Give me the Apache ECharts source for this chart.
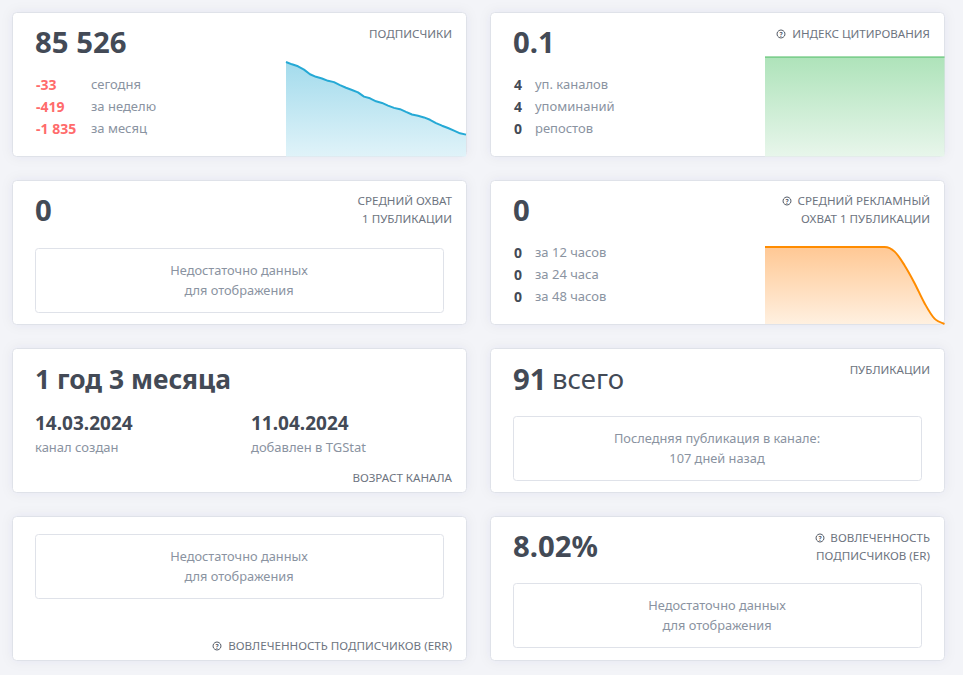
<!DOCTYPE html>
<html>
<head>
<meta charset="utf-8">
<title>TGStat</title>
<script src="https://cdn.jsdelivr.net/npm/echarts@6/dist/echarts.min.js"></script>
<style>
  html, body { margin: 0; padding: 0; background: #f3f4f8; }
  #chart { width: 963px; height: 675px; }
</style>
</head>
<body>
<div id="chart"></div>
<script>
// last 31 days of subscribers
const subscribers = [87361, 87302, 87252, 87169, 87052, 86986, 86944, 86885, 86852, 86777, 86710,
  86652, 86594, 86485, 86443, 86368, 86327, 86260, 86202, 86168, 86101, 86035, 86001, 85960,
  85901, 85818, 85751, 85693, 85626, 85559, 85526];
const subscriberDays = subscribers.map((v, i) => i + 1);
const citationIndex = [0.1, 0.1];
const citationDays = ['a', 'b'];
const adReach = [1, 1, 1, 1, 1, 1, 1, 1, 1, 1, 1, 1, 1, 0.94, 0.76, 0.53, 0.27, 0.07, 0];
const adReachHours = adReach.map((v, i) => i + 1);

const subscriberRows = [['-33', 'сегодня'], ['-419', 'за неделю'], ['-1 835', 'за месяц']];
const citationRows = [['4', 'уп. каналов'], ['4', 'упоминаний'], ['0', 'репостов']];
const adReachRows = [['0', 'за 12 часов'], ['0', 'за 24 часа'], ['0', 'за 48 часов']];

const FONT = '"Noto Sans", sans-serif';
const DARK = '#434a56', GRAY = '#8a93a1', CAPTION = '#6d7480', RED = '#ff6b6b', BORDER = '#dfe2e9';
const CAP = 11.6;

let els = [];

function card(x, y, w, h) {
  els.push({ type: 'rect', z: 0, shape: { x: x + .5, y: y + .5, width: w, height: h, r: 4 },
    style: { fill: '#fff', stroke: BORDER, lineWidth: 1, shadowBlur: 12, shadowColor: 'rgba(60,70,110,0.06)' } });
}

function box(x, y, w, h, lines) {
  els.push({ type: 'rect', z: 1, shape: { x: x + .5, y: y + .5, width: w, height: h, r: 3 },
    style: { fill: '#fff', stroke: BORDER, lineWidth: 1 } });
  text(x + w / 2, y + 21.5, lines[0], 12.8, 400, GRAY, 'center');
  text(x + w / 2, y + 41.5, lines[1], 12.8, 400, GRAY, 'center');
}

function text(x, y, str, size, weight, color, align) {
  els.push({ type: 'text', z: 5, x: x, y: y, style: {
    text: str, fill: color, align: align || 'left', verticalAlign: 'middle',
    font: weight + ' ' + size + 'px ' + FONT } });
}

function icon(x, y) {
  els.push({ type: 'circle', z: 5, shape: { cx: x, cy: y, r: 4 },
    style: { fill: 'none', stroke: '#555c68', lineWidth: 1 } });
  text(x, y, '?', 6.5, 700, '#555c68', 'center');
}

function rows(list, x1, x2, y, color) {
  list.forEach((r, i) => {
    text(x1, y + i * 22, r[0], 14, 700, color);
    text(x2, y + i * 22, r[1], 13, 400, GRAY);
  });
}

const noData = ['Недостаточно данных', 'для отображения'];

// left column
card(12, 12, 454, 144);
text(35, 41.5, '85 526', 29.3, 700, DARK);
text(452, 33.5, 'ПОДПИСЧИКИ', CAP, 400, CAPTION, 'right');
rows(subscriberRows, 36, 91, 84, RED);

card(12, 180, 454, 144);
text(35, 209.5, '0', 29.3, 700, DARK);
text(452, 200.5, 'СРЕДНИЙ ОХВАТ', CAP, 400, CAPTION, 'right');
text(452, 218.5, '1 ПУБЛИКАЦИИ', CAP, 400, CAPTION, 'right');
box(35, 248, 408, 64, noData);

card(12, 348, 454, 144);
text(35, 378.5, '1 год 3 месяца', 26.4, 700, DARK);
text(35, 422.5, '14.03.2024', 19, 700, DARK);
text(251, 422.5, '11.04.2024', 19, 700, DARK);
text(35, 447, 'канал создан', 13, 400, GRAY);
text(251, 447, 'добавлен в TGStat', 13, 400, GRAY);
text(452, 477.5, 'ВОЗРАСТ КАНАЛА', CAP, 400, CAPTION, 'right');

card(12, 516, 454, 144);
box(35, 534, 408, 64, noData);
icon(217, 646);
text(452, 645.5, 'ВОВЛЕЧЕННОСТЬ ПОДПИСЧИКОВ (ERR)', CAP, 400, CAPTION, 'right');

// right column
card(490, 12, 454, 144);
text(513, 41.5, '0.1', 29.3, 700, DARK);
icon(781, 34);
text(930, 33.5, 'ИНДЕКС ЦИТИРОВАНИЯ', CAP, 400, CAPTION, 'right');
rows(citationRows, 514, 535, 84, DARK);

card(490, 180, 454, 144);
text(513, 209.5, '0', 29.3, 700, DARK);
icon(787, 201);
text(930, 200.5, 'СРЕДНИЙ РЕКЛАМНЫЙ', CAP, 400, CAPTION, 'right');
text(930, 218.5, 'ОХВАТ 1 ПУБЛИКАЦИИ', CAP, 400, CAPTION, 'right');
rows(adReachRows, 514, 535, 252, DARK);

card(490, 348, 454, 144);
text(513, 378.5, '91', 29.3, 700, DARK);
text(552, 378.5, 'всего', 27.5, 400, DARK);
text(930, 369.5, 'ПУБЛИКАЦИИ', CAP, 400, CAPTION, 'right');
box(513, 416, 408, 64, ['Последняя публикация в канале:', '107 дней назад']);

card(490, 516, 454, 144);
text(513, 545.5, '8.02%', 29.3, 700, DARK);
icon(820, 538);
text(930, 537.5, 'ВОВЛЕЧЕННОСТЬ', CAP, 400, CAPTION, 'right');
text(930, 555.5, 'ПОДПИСЧИКОВ (ER)', CAP, 400, CAPTION, 'right');
box(513, 583, 408, 64, noData);

function fill(top, bottom) {
  return { type: 'linear', x: 0, y: 0, x2: 0, y2: 1, colorStops: [
    { offset: 0, color: top }, { offset: 1, color: bottom }] };
}

const grids = [
  { left: 286, top: 57, width: 180, height: 99.5 },
  { left: 765, top: 57, width: 179.5, height: 99.5 },
  { left: 765, top: 247, width: 179.5, height: 77 }
];
const hiddenX = (data, i) => ({ type: 'category', gridIndex: i, data: data, boundaryGap: false, show: false });
const hiddenY = (min, max, i) => ({ type: 'value', gridIndex: i, min: min, max: max, show: false });

const chart = echarts.init(document.getElementById('chart'), null, { renderer: 'svg' });
chart.setOption({
  animation: false,
  backgroundColor: '#f3f4f8',
  grid: grids,
  xAxis: [hiddenX(subscriberDays, 0), hiddenX(citationDays, 1), hiddenX(adReachHours, 2)],
  yAxis: [hiddenY(84973, 87487, 0), hiddenY(0, 0.1, 1), hiddenY(0, 1, 2)],
  graphic: { elements: els },
  series: [
    { type: 'line', xAxisIndex: 0, yAxisIndex: 0, data: subscribers, symbol: 'none', clip: false, z: 3,
      lineStyle: { color: '#25a9d5', width: 2 }, areaStyle: { color: fill('#a3dbec', '#e0f3f9'), opacity: 1 } },
    { type: 'line', xAxisIndex: 1, yAxisIndex: 1, data: citationIndex, symbol: 'none', clip: false, z: 3,
      lineStyle: { color: '#4dbb62', width: 1.2 }, areaStyle: { color: fill('#aee3ba', '#e8f6eb'), opacity: 1 } },
    { type: 'line', xAxisIndex: 2, yAxisIndex: 2, data: adReach, symbol: 'none', clip: false, z: 3,
      smooth: 0.3,
      lineStyle: { color: '#ff8c00', width: 2 }, areaStyle: { color: fill('#ffc894', '#fff0e0'), opacity: 1 } }
  ]
});
</script>
</body>
</html>
